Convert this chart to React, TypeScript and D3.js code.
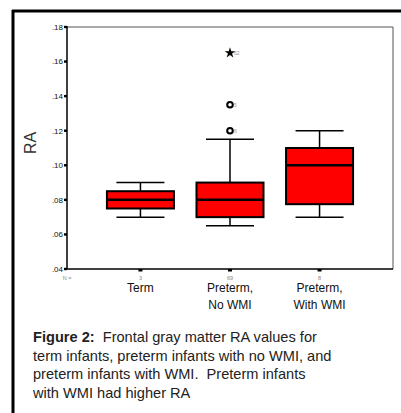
import React from "react";
import * as d3 from "d3";

const categories = ["Term", "Preterm,|No WMI", "Preterm,|With WMI"];
const nCounts = ["3", "69", "8"];
const whiskerLow = [0.07, 0.065, 0.07];
const q1 = [0.075, 0.07, 0.0775];
const median = [0.08, 0.08, 0.1];
const q3 = [0.085, 0.09, 0.11];
const whiskerHigh = [0.09, 0.115, 0.12];
const outlierCat = [1, 1, 1];
const outlierVal = [0.12, 0.135, 0.165];
const outlierKind = ["circle", "circle", "star"];
const outlierLabel = ["8", "5", "62"];
const yTicks = [0.04, 0.06, 0.08, 0.1, 0.12, 0.14, 0.16, 0.18];
const captionLines = [
  "Frontal gray matter RA values for",
  "term infants, preterm infants with no WMI, and",
  "preterm infants with WMI.\u00a0 Preterm infants",
  "with WMI had higher RA",
];

const W = 401;
const H = 413;
const FONT = "'Liberation Sans', Arial, sans-serif";

export default function App() {
  const left = 67, right = 393, top = 27, bottom = 269;
  const y = d3.scaleLinear().domain([0.04, 0.18]).range([bottom, top]);
  const x = d3.scalePoint<string>().domain(categories).range([left, right]).padding(0.82);
  const boxW = 67;
  const capW = 48;
  const fmt = (v: number) => d3.format(".2f")(v).replace(/^0/, "");
  const star = d3.symbol().type(d3.symbolStar).size(36)();

  return (
    <svg width={W} height={H} style={{ position: "absolute", left: 0, top: 0, background: "#fff" }}>
      <rect x={0} y={0} width={W} height={H} fill="#fff" />
      {/* outer frame */}
      <line x1={12} x2={W} y1={11} y2={11} stroke="#000" strokeWidth={3} />
      <line x1={13} x2={13} y1={10} y2={H} stroke="#000" strokeWidth={3} />
      {/* plot frame */}
      <line x1={left} x2={right} y1={top} y2={top} stroke="#555" strokeWidth={1} />
      <line x1={right} x2={right} y1={top} y2={bottom} stroke="#555" strokeWidth={1} />
      <line x1={left} x2={left} y1={top - 1} y2={bottom} stroke="#000" strokeWidth={1.5} />
      <line x1={left} x2={right} y1={bottom} y2={bottom} stroke="#000" strokeWidth={1.5} />
      {/* y ticks */}
      {yTicks.map((t) => (
        <g key={t}>
          <rect x={left - 3} y={y(t) - 1.2} width={3} height={2.4} fill="#000" />
          <text x={left - 4} y={y(t) + 2.8} fontSize={8} fontFamily={FONT} textAnchor="end" fill="#111">
            {fmt(t)}
          </text>
        </g>
      ))}
      <text
        transform={`translate(36,${143}) rotate(-90)`}
        fontSize={16}
        fontFamily={FONT}
        textAnchor="middle"
        fill="#333"
      >
        RA
      </text>
      {/* N row */}
      <text x={left} y={280} fontSize={5.5} fontFamily={FONT} textAnchor="middle" fill="#888">N =</text>
      {categories.map((c, i) => {
        const cx = x(c)!;
        const lines = c.split("|");
        return (
          <g key={c}>
            <rect x={cx - 2} y={bottom} width={4} height={2.5} fill="#000" />
            <text x={cx} y={280} fontSize={5.5} fontFamily={FONT} textAnchor="middle" fill="#888">
              {nCounts[i]}
            </text>
            {lines.map((l, j) => (
              <text key={j} x={cx} y={292 + j * 17} fontSize={12} fontFamily={FONT} textAnchor="middle" fill="#111">
                {l}
              </text>
            ))}
            {/* whiskers */}
            <line x1={cx} x2={cx} y1={y(whiskerHigh[i])} y2={y(q3[i])} stroke="#000" strokeWidth={1.5} />
            <line x1={cx} x2={cx} y1={y(q1[i])} y2={y(whiskerLow[i])} stroke="#000" strokeWidth={1.5} />
            <line x1={cx - capW / 2} x2={cx + capW / 2} y1={y(whiskerHigh[i])} y2={y(whiskerHigh[i])} stroke="#000" strokeWidth={1.5} />
            <line x1={cx - capW / 2} x2={cx + capW / 2} y1={y(whiskerLow[i])} y2={y(whiskerLow[i])} stroke="#000" strokeWidth={1.5} />
            <rect
              x={cx - boxW / 2}
              y={y(q3[i])}
              width={boxW}
              height={y(q1[i]) - y(q3[i])}
              fill="#ff0000"
              stroke="#000"
              strokeWidth={2}
            />
            <line x1={cx - boxW / 2} x2={cx + boxW / 2} y1={y(median[i])} y2={y(median[i])} stroke="#000" strokeWidth={2.5} />
          </g>
        );
      })}
      {/* outliers */}
      {outlierVal.map((v, k) => {
        const cx = x(categories[outlierCat[k]])!;
        const cy = y(v);
        return (
          <g key={k}>
            {outlierKind[k] === "circle" ? (
              <circle cx={cx} cy={cy} r={2.8} fill="#fff" stroke="#000" strokeWidth={2} />
            ) : (
              <path d={star!} transform={`translate(${cx},${cy})`} fill="#000" />
            )}
            <text x={cx + 4} y={cy + 2} fontSize={5} fontFamily={FONT} fill="#999">
              {outlierLabel[k]}
            </text>
          </g>
        );
      })}
      {/* caption */}
      {captionLines.map((l, i) => (
        <text key={i} x={33} y={342 + i * 18.5} fontSize={14.6} fontFamily={FONT} fill="#222">
          {i === 0 ? (
            <>
              <tspan fontWeight="bold">Figure 2:</tspan>
              <tspan>{"\u00a0 " + l}</tspan>
            </>
          ) : (
            l
          )}
        </text>
      ))}
    </svg>
  );
}
